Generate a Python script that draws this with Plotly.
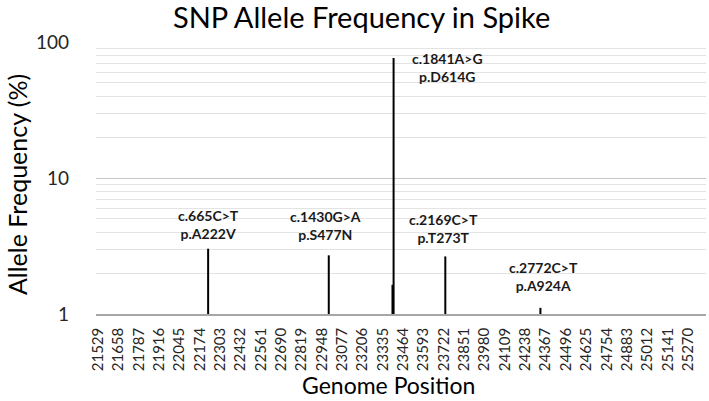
import math
import plotly.graph_objects as go

# SNP positions in the spike gene (genome coordinates) and their frequencies (%)
positions = [22227, 22992, 23396, 23403, 23731, 24334]
frequencies = [3.02, 2.70, 1.64, 76.3, 2.65, 1.11]
snp_labels = ["c.665C>T<br>p.A222V", "c.1430G>A<br>p.S477N", "", "c.1841A>G<br>p.D614G",
              "c.2169C>T<br>p.T273T", "c.2772C>T<br>p.A924A"]

# category tick labels on the x axis
tick_positions = list(range(21529, 25271, 129))
tick_text = [str(t) for t in tick_positions]

font_family = "Lato, 'Open Sans', sans-serif"

# stems drawn as separate segments from baseline (1%) up to the frequency
xs, ys = [], []
for p, f in zip(positions, frequencies):
    xs += [p, p, None]
    ys += [1, f, None]

fig = go.Figure()
fig.add_trace(go.Scatter(x=xs, y=ys, mode="lines",
                         line=dict(color="black", width=2),
                         hoverinfo="skip", showlegend=False))

# label placement (pixel shifts), kept separate from the data
label_shift = {
    "c.665C>T<br>p.A222V": (0, 5, "bottom"),
    "c.1430G>A<br>p.S477N": (-3, 10, "bottom"),
    "c.1841A>G<br>p.D614G": (54, 10, "top"),
    "c.2169C>T<br>p.T273T": (-2, 8, "bottom"),
    "c.2772C>T<br>p.A924A": (3, 12, "bottom"),
}

for p, f, lab in zip(positions, frequencies, snp_labels):
    if not lab:
        continue
    dx, dy, anchor = label_shift[lab]
    fig.add_annotation(x=p, y=math.log10(f), text="<b>" + lab + "</b>",
                       showarrow=False, xshift=dx, yshift=dy, yanchor=anchor,
                       font=dict(family=font_family, size=14, color="#1a1a1a"),
                       align="center")

# axis titles as annotations so they can sit where the original has them
fig.add_annotation(text="Genome Position", xref="paper", yref="paper",
                   x=0.479, y=0, yshift=-71, xanchor="center", yanchor="middle",
                   showarrow=False, font=dict(family=font_family, size=23, color="black"))
fig.add_annotation(text="Allele Frequency (%)", xref="paper", yref="paper",
                   x=-0.1295, y=0.474, xanchor="center", yanchor="middle", textangle=-90,
                   showarrow=False, font=dict(family=font_family, size=25, color="black"))

fig.update_layout(
    width=709, height=401,
    margin=dict(l=96, r=3, t=42, b=87),
    paper_bgcolor="white", plot_bgcolor="white",
    title=dict(text="SNP Allele Frequency in Spike", x=0.51, xanchor="center",
               y=1 - 18 / 401, yanchor="middle",
               font=dict(family=font_family, size=29, color="black")),
    font=dict(family=font_family, color="#262626"),
)

fig.update_xaxes(
    range=[21516, 25384], automargin=False,
    tickmode="array", tickvals=tick_positions, ticktext=tick_text,
    tickangle=-90, tickfont=dict(size=15, color="#262626"), ticklabelstandoff=6,
    showgrid=False, zeroline=False,
    showline=True, linecolor="#a6a6a6", linewidth=1.5,
    ticks="", ticklen=0,
)

fig.update_yaxes(
    type="log", range=[0, 2], automargin=False,
    tickmode="array", tickvals=[1, 10, 100], ticktext=["1", "10", "100"],
    tickfont=dict(size=19, color="#262626"), ticklabelstandoff=26,
    showgrid=True, gridcolor="#c8c8c8", gridwidth=1.2,
    minor=dict(showgrid=True, gridcolor="#e3e3e3", gridwidth=1,
               tickvals=[2, 3, 4, 5, 6, 7, 8, 9, 20, 30, 40, 50, 60, 70, 80, 90]),
    zeroline=False, showline=False, ticks="",
)

# the page body has a default 8px margin; drop it so the figure sits at (0, 0)
fig.write_html("out.html", config={"displayModeBar": False},
               post_script="document.body.style.margin='0';")
